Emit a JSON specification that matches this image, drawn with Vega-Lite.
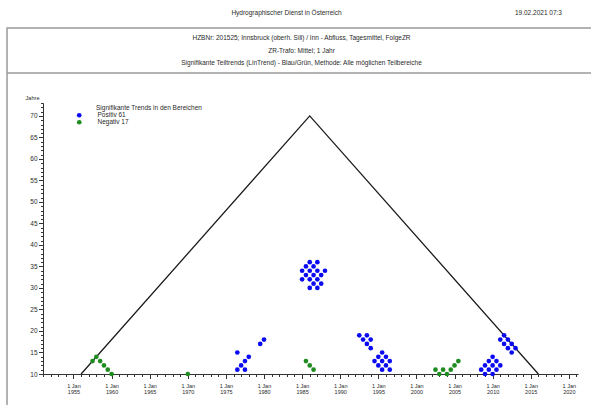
{
  "$schema": "https://vega.github.io/schema/vega-lite/v6.json",
  "width": 535,
  "height": 271,
  "autosize": {"type": "none"},
  "padding": {"left": 43, "top": 103, "right": 13, "bottom": 31},
  "background": "white",
  "config": {
    "view": {"stroke": null},
    "font": "Liberation Sans",
    "text": {"font": "Liberation Sans", "fontSize": 6.5, "color": "#2a2a2a"}
  },
  "datasets": {
    "trends": [
      {"mitte": 1976.5, "jahre": 15, "trend": "Positiv 61"},
      {"mitte": 1978, "jahre": 14, "trend": "Positiv 61"},
      {"mitte": 1977.5, "jahre": 13, "trend": "Positiv 61"},
      {"mitte": 1977, "jahre": 12, "trend": "Positiv 61"},
      {"mitte": 1976.5, "jahre": 11, "trend": "Positiv 61"},
      {"mitte": 1977.5, "jahre": 11, "trend": "Positiv 61"},
      {"mitte": 1979.5, "jahre": 17, "trend": "Positiv 61"},
      {"mitte": 1980, "jahre": 18, "trend": "Positiv 61"},
      {"mitte": 1986, "jahre": 36, "trend": "Positiv 61"},
      {"mitte": 1987, "jahre": 36, "trend": "Positiv 61"},
      {"mitte": 1985.5, "jahre": 35, "trend": "Positiv 61"},
      {"mitte": 1986.5, "jahre": 35, "trend": "Positiv 61"},
      {"mitte": 1985, "jahre": 34, "trend": "Positiv 61"},
      {"mitte": 1986, "jahre": 34, "trend": "Positiv 61"},
      {"mitte": 1987, "jahre": 34, "trend": "Positiv 61"},
      {"mitte": 1988, "jahre": 34, "trend": "Positiv 61"},
      {"mitte": 1985.5, "jahre": 33, "trend": "Positiv 61"},
      {"mitte": 1986.5, "jahre": 33, "trend": "Positiv 61"},
      {"mitte": 1987.5, "jahre": 33, "trend": "Positiv 61"},
      {"mitte": 1985, "jahre": 32, "trend": "Positiv 61"},
      {"mitte": 1986, "jahre": 32, "trend": "Positiv 61"},
      {"mitte": 1987, "jahre": 32, "trend": "Positiv 61"},
      {"mitte": 1986.5, "jahre": 31, "trend": "Positiv 61"},
      {"mitte": 1987.5, "jahre": 31, "trend": "Positiv 61"},
      {"mitte": 1986, "jahre": 30, "trend": "Positiv 61"},
      {"mitte": 1987, "jahre": 30, "trend": "Positiv 61"},
      {"mitte": 1992.5, "jahre": 19, "trend": "Positiv 61"},
      {"mitte": 1993.5, "jahre": 19, "trend": "Positiv 61"},
      {"mitte": 1993, "jahre": 18, "trend": "Positiv 61"},
      {"mitte": 1994, "jahre": 18, "trend": "Positiv 61"},
      {"mitte": 1993.5, "jahre": 17, "trend": "Positiv 61"},
      {"mitte": 1994, "jahre": 16, "trend": "Positiv 61"},
      {"mitte": 1995.5, "jahre": 15, "trend": "Positiv 61"},
      {"mitte": 1995, "jahre": 14, "trend": "Positiv 61"},
      {"mitte": 1996, "jahre": 14, "trend": "Positiv 61"},
      {"mitte": 1994.5, "jahre": 13, "trend": "Positiv 61"},
      {"mitte": 1995.5, "jahre": 13, "trend": "Positiv 61"},
      {"mitte": 1996.5, "jahre": 13, "trend": "Positiv 61"},
      {"mitte": 1995, "jahre": 12, "trend": "Positiv 61"},
      {"mitte": 1996, "jahre": 12, "trend": "Positiv 61"},
      {"mitte": 1995.5, "jahre": 11, "trend": "Positiv 61"},
      {"mitte": 1996.5, "jahre": 11, "trend": "Positiv 61"},
      {"mitte": 2010, "jahre": 14, "trend": "Positiv 61"},
      {"mitte": 2009.5, "jahre": 13, "trend": "Positiv 61"},
      {"mitte": 2010.5, "jahre": 13, "trend": "Positiv 61"},
      {"mitte": 2009, "jahre": 12, "trend": "Positiv 61"},
      {"mitte": 2010, "jahre": 12, "trend": "Positiv 61"},
      {"mitte": 2011, "jahre": 12, "trend": "Positiv 61"},
      {"mitte": 2008.5, "jahre": 11, "trend": "Positiv 61"},
      {"mitte": 2009.5, "jahre": 11, "trend": "Positiv 61"},
      {"mitte": 2010.5, "jahre": 11, "trend": "Positiv 61"},
      {"mitte": 2009, "jahre": 10, "trend": "Positiv 61"},
      {"mitte": 2010, "jahre": 10, "trend": "Positiv 61"},
      {"mitte": 2011.5, "jahre": 19, "trend": "Positiv 61"},
      {"mitte": 2011, "jahre": 18, "trend": "Positiv 61"},
      {"mitte": 2012, "jahre": 18, "trend": "Positiv 61"},
      {"mitte": 2011.5, "jahre": 17, "trend": "Positiv 61"},
      {"mitte": 2012.5, "jahre": 17, "trend": "Positiv 61"},
      {"mitte": 2012, "jahre": 16, "trend": "Positiv 61"},
      {"mitte": 2013, "jahre": 16, "trend": "Positiv 61"},
      {"mitte": 2012.5, "jahre": 15, "trend": "Positiv 61"},
      {"mitte": 1957.5, "jahre": 13, "trend": "Negativ 17"},
      {"mitte": 1958, "jahre": 14, "trend": "Negativ 17"},
      {"mitte": 1958.5, "jahre": 13, "trend": "Negativ 17"},
      {"mitte": 1959, "jahre": 12, "trend": "Negativ 17"},
      {"mitte": 1959.5, "jahre": 11, "trend": "Negativ 17"},
      {"mitte": 1960, "jahre": 10, "trend": "Negativ 17"},
      {"mitte": 1970, "jahre": 10, "trend": "Negativ 17"},
      {"mitte": 1985.5, "jahre": 13, "trend": "Negativ 17"},
      {"mitte": 1986, "jahre": 12, "trend": "Negativ 17"},
      {"mitte": 1986.5, "jahre": 11, "trend": "Negativ 17"},
      {"mitte": 2002.5, "jahre": 11, "trend": "Negativ 17"},
      {"mitte": 2003, "jahre": 10, "trend": "Negativ 17"},
      {"mitte": 2003.5, "jahre": 11, "trend": "Negativ 17"},
      {"mitte": 2004, "jahre": 10, "trend": "Negativ 17"},
      {"mitte": 2004.5, "jahre": 11, "trend": "Negativ 17"},
      {"mitte": 2005, "jahre": 12, "trend": "Negativ 17"},
      {"mitte": 2005.5, "jahre": 13, "trend": "Negativ 17"}
    ],
    "dreieck": [
      {"mitte": 1956, "jahre": 10},
      {"mitte": 1986, "jahre": 70},
      {"mitte": 2016, "jahre": 10}
    ]
  },
  "layer": [
    {
      "data": {"values": [{"rahmen": "aussen"}]},
      "mark": {"type": "rect", "fill": null, "stroke": "#9a9a9a", "strokeWidth": 1.5},
      "encoding": {
        "x": {"datum": 1946.28, "type": "quantitative"},
        "x2": {"datum": 2026},
        "y": {"datum": 0, "type": "quantitative"},
        "y2": {"datum": 90.43}
      }
    },
    {
      "data": {"values": [{"rahmen": "trenner"}]},
      "mark": {"type": "rule", "stroke": "#9a9a9a", "strokeWidth": 1.5},
      "encoding": {
        "x": {"datum": 1946.28, "type": "quantitative"},
        "x2": {"datum": 2026},
        "y": {"datum": 79.98, "type": "quantitative"}
      }
    },
    {
      "data": {"values": [{"t": "Hydrographischer Dienst in Österreich"}]},
      "mark": {"type": "text", "align": "center", "baseline": "middle"},
      "encoding": {
        "x": {"datum": 1982.95, "type": "quantitative"},
        "y": {"datum": 93.92, "type": "quantitative"},
        "text": {"field": "t"}
      }
    },
    {
      "data": {"values": [{"t": "19.02.2021 07:3"}]},
      "mark": {"type": "text", "align": "left", "baseline": "middle"},
      "encoding": {
        "x": {"datum": 2012.93, "type": "quantitative"},
        "y": {"datum": 93.92, "type": "quantitative"},
        "text": {"field": "t"}
      }
    },
    {
      "data": {"values": [{"t": "HZBNr: 201525; Innsbruck (oberh. Sill) / Inn - Abfluss, Tagesmittel, FolgeZR"}]},
      "mark": {"type": "text", "align": "center", "baseline": "middle"},
      "encoding": {
        "x": {"datum": 1984.92, "type": "quantitative"},
        "y": {"datum": 88.11, "type": "quantitative"},
        "text": {"field": "t"}
      }
    },
    {
      "data": {"values": [{"t": "ZR-Trafo: Mittel; 1 Jahr"}]},
      "mark": {"type": "text", "align": "center", "baseline": "middle"},
      "encoding": {
        "x": {"datum": 1984.92, "type": "quantitative"},
        "y": {"datum": 85.09, "type": "quantitative"},
        "text": {"field": "t"}
      }
    },
    {
      "data": {"values": [{"t": "Signifikante Teiltrends (LinTrend) - Blau/Grün, Methode: Alle möglichen Teilbereiche"}]},
      "mark": {"type": "text", "align": "center", "baseline": "middle"},
      "encoding": {
        "x": {"datum": 1984.92, "type": "quantitative"},
        "y": {"datum": 82.3, "type": "quantitative"},
        "text": {"field": "t"}
      }
    },
    {
      "data": {"name": "dreieck"},
      "mark": {"type": "line", "color": "#1a1a1a", "strokeWidth": 1.3},
      "encoding": {
        "x": {"field": "mitte", "type": "quantitative"},
        "y": {"field": "jahre", "type": "quantitative"}
      }
    },
    {
      "data": {"name": "trends"},
      "mark": {"type": "point", "filled": true, "size": 22, "opacity": 1, "strokeWidth": 0},
      "encoding": {
        "x": {
          "field": "mitte",
          "type": "quantitative",
          "scale": {"domain": [1951, 2021.2], "nice": false, "zero": false},
          "axis": {
            "title": null,
            "grid": false,
            "tickCount": 500,
            "values": [1951,1952,1953,1954,1955,1956,1957,1958,1959,1960,1961,1962,1963,1964,1965,1966,1967,1968,1969,1970,1971,1972,1973,1974,1975,1976,1977,1978,1979,1980,1981,1982,1983,1984,1985,1986,1987,1988,1989,1990,1991,1992,1993,1994,1995,1996,1997,1998,1999,2000,2001,2002,2003,2004,2005,2006,2007,2008,2009,2010,2011,2012,2013,2014,2015,2016,2017,2018,2019,2020,2021],
            "labelExpr": "datum.value % 5 === 0 ? ['1 Jan', format(datum.value, 'd')] : ''",
            "tickSize": {"condition": {"test": "datum.value % 5 === 0", "value": 4.5}, "value": 2.5},
            "labelFont": "Liberation Sans",
            "labelFontSize": 5.5,
            "labelLineHeight": 6,
            "labelPadding": 5,
            "labelBaseline": "top",
            "labelOverlap": false,
            "labelFlush": false,
            "labelColor": "#2a2a2a",
            "domainColor": "#333333",
            "tickColor": "#333333"
          }
        },
        "y": {
          "field": "jahre",
          "type": "quantitative",
          "scale": {"domain": [10, 73], "nice": false, "zero": false},
          "axis": {
            "title": "Jahre",
            "titleAngle": 0,
            "titleX": -11,
            "titleY": -6,
            "titleAlign": "center",
            "titleBaseline": "middle",
            "titleFont": "Liberation Sans",
            "titleFontSize": 5.6,
            "titleFontWeight": "normal",
            "titleColor": "#2a2a2a",
            "grid": false,
            "tickCount": 500,
            "values": [10,11,12,13,14,15,16,17,18,19,20,21,22,23,24,25,26,27,28,29,30,31,32,33,34,35,36,37,38,39,40,41,42,43,44,45,46,47,48,49,50,51,52,53,54,55,56,57,58,59,60,61,62,63,64,65,66,67,68,69,70,71,72,73],
            "labelExpr": "datum.value % 5 === 0 ? format(datum.value, 'd') : ''",
            "tickSize": {"condition": {"test": "datum.value % 5 === 0", "value": 4.5}, "value": 2.5},
            "labelFont": "Liberation Sans",
            "labelFontSize": 6.5,
            "labelPadding": 1.5,
            "labelOverlap": false,
            "labelFlush": false,
            "labelColor": "#2a2a2a",
            "domainColor": "#333333",
            "tickColor": "#333333"
          }
        },
        "color": {
          "field": "trend",
          "type": "nominal",
          "scale": {"domain": ["Positiv 61", "Negativ 17"], "range": ["#0b0bf2", "#1e8c1e"]},
          "legend": {
            "orient": "none",
            "legendX": 53,
            "legendY": 2,
            "title": "Signifikante Trends in den Bereichen",
            "titleFont": "Liberation Sans",
            "titleFontSize": 6.5,
            "titleFontWeight": "normal",
            "titleColor": "#2a2a2a",
            "titlePadding": 0.5,
            "labelFont": "Liberation Sans",
            "labelFontSize": 6.5,
            "labelColor": "#2a2a2a",
            "symbolType": "circle",
            "symbolSize": 22,
            "symbolStrokeWidth": 0,
            "symbolOffset": -20,
            "labelOffset": 15,
            "rowPadding": 0
          }
        }
      }
    }
  ]
}
